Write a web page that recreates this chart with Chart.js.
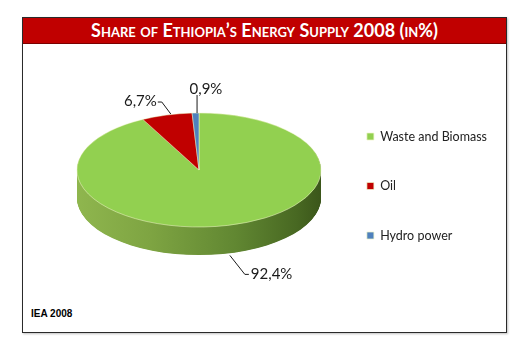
<!DOCTYPE html>
<html>
<head>
<meta charset="utf-8">
<script src="https://cdn.jsdelivr.net/npm/chart.js@4/dist/chart.umd.min.js"></script>
<style>
  html, body { margin: 0; padding: 0; background: #fff; }
  body { width: 530px; height: 361px; position: relative; overflow: hidden; }
  #frame {
    position: absolute; left: 22px; top: 17px; width: 485px; height: 316px;
    box-sizing: border-box; border: 1px solid #2a2a2a;
    box-shadow: 1px 1px 2px rgba(0,0,0,0.25);
    background: #fff;
  }
  #header {
    height: 25px; background: #c00000; border-bottom: 1px solid #7a0000;
    color: #fff; text-align: center;
    font-family: Lato, "Open Sans", sans-serif; font-weight: bold;
    font-size: 18px; font-variant: small-caps; line-height: 25px;
  }
  #source {
    position: absolute; left: 31px; top: 308px;
    font-family: "Liberation Sans", Arial, sans-serif; font-weight: bold;
    font-size: 10px; color: #000;
  }
  #c { position: absolute; left: 0; top: 0; }
</style>
</head>
<body>
<div id="frame"><div id="header">Share of Ethiopia’s Energy Supply 2008 (in%)</div></div>
<div id="source">IEA 2008</div>
<canvas id="c" width="530" height="361"></canvas>
<script>
// ---- data ----
const categories = ['Waste and Biomass', 'Oil', 'Hydro power'];
const shares = [92.4, 6.7, 0.9];
const valueLabels = ['92,4%', '6,7%', '0,9%'];

// ---- styles ----
const topColors = ['#92d050', '#c00000', '#4f81bd'];
const sideColors = ['#6c9436', '#8a0000', '#3a6190'];

// ---- 3D projection (drawing transform only) ----
const CX = 199, CY = 170;          // page centre of the pie
const K = 57 / 122;                // vertical squash of the disc
const DEPTH = 28;                  // thickness in page pixels

function project(arc, angle) {
  return {
    x: CX + arc.outerRadius * Math.cos(angle),
    y: CY + K * arc.outerRadius * Math.sin(angle)
  };
}

const pie3d = {
  id: 'pie3d',
  beforeDatasetsDraw(chart) {
    const meta = chart.getDatasetMeta(0);
    const a0 = meta.data[0];
    const ctx = chart.ctx;
    ctx.save();
    ctx.translate(CX, CY);
    ctx.scale(1, K);
    ctx.translate(-a0.x, -a0.y);
    const D = DEPTH / K;
    const r = a0.outerRadius;
    const grad = ctx.createLinearGradient(a0.x - r, 0, a0.x + r, 0);
    grad.addColorStop(0, '#8fb64e');
    grad.addColorStop(0.3, '#7ea442');
    grad.addColorStop(0.65, '#618732');
    grad.addColorStop(0.9, '#486822');
    grad.addColorStop(1, '#3b561a');
    for (let d = D; d > 0; d -= 1) {
      meta.data.forEach((arc, i) => {
        ctx.beginPath();
        ctx.moveTo(arc.x, arc.y + d);
        ctx.arc(arc.x, arc.y + d, arc.outerRadius, arc.startAngle, arc.endAngle);
        ctx.closePath();
        ctx.fillStyle = i === 0 ? grad : sideColors[i];
        ctx.fill();
      });
    }
  },
  afterDatasetsDraw(chart) {
    const ctx = chart.ctx;
    ctx.restore();
    const meta = chart.getDatasetMeta(0);
    ctx.save();
    ctx.strokeStyle = '#1a1a1a';
    ctx.lineWidth = 1;
    ctx.fillStyle = '#1a1a1a';
    ctx.font = '15px Lato, "Open Sans", sans-serif';
    ctx.textBaseline = 'middle';
    meta.data.forEach((arc, i) => {
      const mid = (arc.startAngle + arc.endAngle) / 2;
      const p = project(arc, mid);
      ctx.beginPath();
      if (i === 0) {
        ctx.moveTo(p.x + 2, p.y + DEPTH + 2);
        ctx.lineTo(p.x + 17, p.y + DEPTH + 21);
        ctx.lineTo(p.x + 21, p.y + DEPTH + 21);
        ctx.stroke();
        ctx.textAlign = 'left';
        ctx.fillText(valueLabels[i], p.x + 23, p.y + DEPTH + 21);
      } else if (i === 1) {
        ctx.moveTo(p.x + 4, p.y - 1);
        ctx.lineTo(p.x - 5, p.y - 13);
        ctx.lineTo(p.x - 9, p.y - 13);
        ctx.stroke();
        ctx.textAlign = 'right';
        ctx.fillText(valueLabels[i], p.x - 10, p.y - 14);
      } else {
        ctx.moveTo(p.x + 1.5, p.y);
        ctx.lineTo(p.x + 1.5, p.y - 18);
        ctx.stroke();
        ctx.textAlign = 'left';
        ctx.fillText(valueLabels[i], p.x - 6, p.y - 24);
      }
    });
    ctx.restore();
  }
};

new Chart(document.getElementById('c'), {
  type: 'pie',
  data: {
    labels: categories,
    datasets: [{
      data: shares,
      backgroundColor: topColors,
      borderColor: 'rgba(240,245,200,0.9)',
      borderWidth: 0.8
    }]
  },
  plugins: [pie3d],
  options: {
    responsive: false,
    animation: false,
    events: [],
    radius: 122,
    rotation: 0,
    layout: { padding: { left: 10, top: 60, bottom: 49, right: 33 } },
    plugins: {
      tooltip: { enabled: false },
      legend: {
        position: 'right',
        labels: {
          boxWidth: 7,
          boxHeight: 7,
          padding: 37,
          color: '#222',
          font: { family: 'Lato, "Open Sans", sans-serif', size: 12.5 }
        }
      }
    }
  }
});
</script>
</body>
</html>
